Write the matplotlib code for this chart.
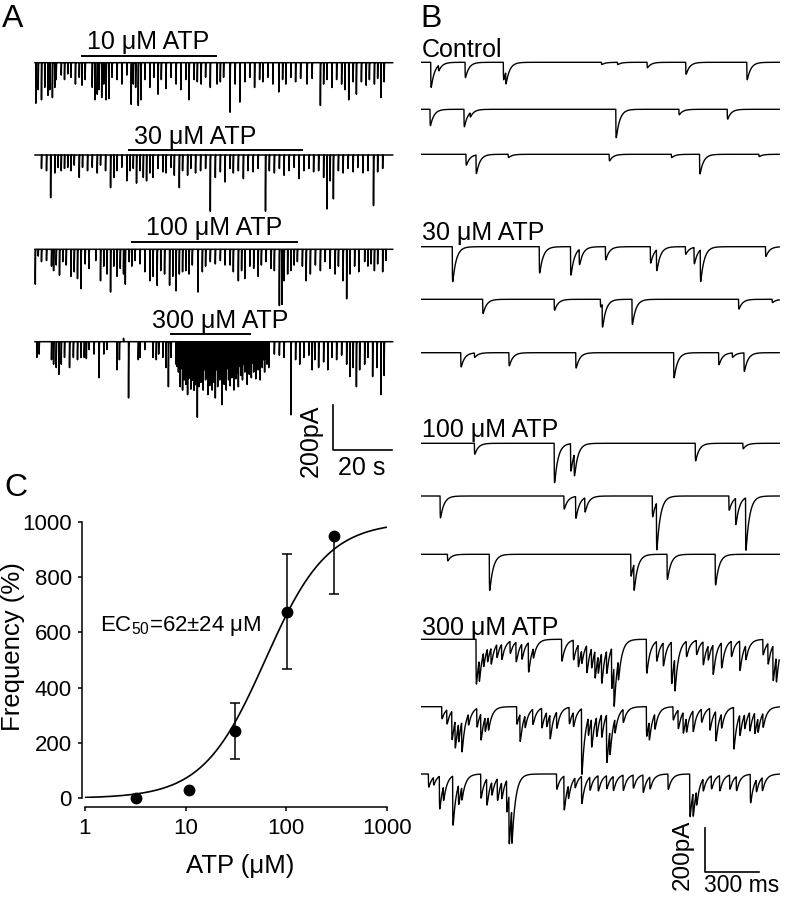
import numpy as np
import matplotlib.pyplot as plt

plt.rcParams["font.family"] = ["Liberation Sans", "DejaVu Sans"]
plt.rcParams["mathtext.fontset"] = "custom"
plt.rcParams["mathtext.rm"] = "Liberation Sans"

# ---------------- data ----------------
# panel A: 4 long recordings, events as (time s, amplitude pA)
a_10 = [(0.3, 180), (1.1, 120), (2.2, 165), (3.3, 110), (4.4, 145), (5.0, 120), (5.9, 155), (6.7, 110),
        (7.2, 75), (8.9, 55), (10.0, 75), (11.1, 50), (12.2, 65), (13.7, 95), (15.0, 65), (15.9, 100),
        (17.0, 75), (19.4, 110), (20.3, 165), (21.1, 140), (21.7, 120), (22.6, 155), (23.3, 95), (24.1, 165),
        (25.0, 160), (26.1, 65), (27.8, 75), (29.4, 95), (31.1, 55), (32.6, 185), (33.3, 95), (34.1, 110),
        (35.0, 190), (35.9, 165), (37.2, 75), (38.9, 110), (40.3, 65), (41.7, 140), (42.8, 75), (44.4, 115),
        (46.1, 65), (47.8, 95), (49.4, 120), (51.1, 75), (52.2, 165), (53.9, 75), (55.0, 85), (56.3, 95),
        (57.8, 65), (59.4, 110), (61.7, 95), (62.8, 85), (63.9, 65), (66.1, 220), (67.8, 95), (69.4, 175),
        (71.1, 85), (72.8, 65), (74.4, 110), (76.1, 75), (77.2, 85), (78.9, 65), (80.6, 95), (82.6, 130),
        (83.9, 75), (85.0, 95), (86.7, 65), (88.3, 85), (90.0, 70), (92.2, 95), (93.9, 70), (96.7, 190),
        (97.8, 95), (98.9, 75), (100.6, 110), (102.2, 75), (103.9, 95), (105.0, 120), (106.3, 165),
        (107.8, 85), (108.9, 140), (110.6, 85), (112.2, 100), (113.3, 75), (115.0, 95), (116.1, 70),
        (117.2, 155), (118.3, 85)]
a_30 = [(2.2, 60), (3.9, 70), (5.3, 190), (6.7, 80), (7.8, 55), (8.9, 70), (10.0, 60), (11.1, 55),
        (12.2, 70), (13.3, 45), (15.0, 100), (16.1, 55), (17.8, 70), (19.4, 55), (21.1, 80), (22.2, 45),
        (23.9, 70), (25.6, 145), (26.7, 100), (27.8, 70), (29.4, 55), (31.1, 115), (32.2, 70), (33.3, 60),
        (34.4, 125), (35.6, 70), (36.7, 100), (37.8, 115), (38.9, 80), (40.0, 100), (41.7, 60), (43.3, 75),
        (44.4, 80), (46.1, 55), (47.2, 90), (48.9, 145), (50.0, 70), (51.7, 90), (52.8, 60), (54.4, 80),
        (56.1, 70), (57.8, 60), (59.4, 250), (61.1, 100), (62.8, 75), (64.4, 120), (66.1, 60), (67.2, 80),
        (68.9, 70), (70.6, 105), (72.2, 70), (73.9, 75), (75.6, 60), (78.1, 250), (79.4, 70), (81.1, 80),
        (82.8, 60), (84.4, 90), (86.1, 70), (87.8, 55), (89.4, 105), (91.1, 70), (92.8, 60), (94.4, 75),
        (96.1, 70), (97.8, 100), (98.9, 240), (100.0, 115), (101.1, 195), (102.8, 70), (104.4, 80),
        (106.1, 60), (107.8, 75), (109.4, 55), (111.1, 80), (112.8, 70), (114.7, 225), (116.1, 75),
        (117.8, 60)]
a_100 = [(0.1, 155), (1.1, 30), (2.2, 55), (3.9, 50), (5.6, 75), (6.3, 95), (7.2, 70), (8.3, 115),
         (9.4, 55), (10.6, 70), (12.2, 120), (13.3, 100), (14.4, 130), (15.6, 175), (17.0, 65), (18.3, 85),
         (20.6, 50), (22.2, 140), (23.3, 75), (24.4, 110), (25.6, 190), (26.7, 75), (27.8, 120), (28.9, 85),
         (30.0, 110), (30.6, 155), (31.9, 55), (32.8, 75), (33.9, 50), (35.6, 65), (37.2, 100), (38.9, 140),
         (40.0, 120), (41.4, 160), (42.6, 95), (43.9, 110), (45.6, 160), (46.7, 120), (47.8, 185),
         (48.9, 110), (50.0, 100), (51.1, 95), (52.2, 110), (53.3, 70), (55.2, 190), (56.7, 100), (57.8, 75),
         (59.4, 55), (61.1, 65), (62.8, 50), (64.4, 70), (66.1, 70), (67.2, 100), (68.9, 140), (70.0, 95),
         (71.1, 130), (72.8, 75), (74.1, 85), (75.6, 120), (76.7, 70), (78.3, 55), (80.0, 85), (81.1, 95),
         (82.8, 250), (83.7, 245), (84.4, 140), (85.6, 110), (86.7, 95), (87.8, 70), (88.9, 55), (90.6, 75),
         (91.9, 140), (93.3, 110), (95.0, 70), (96.7, 95), (98.3, 55), (100.0, 85), (101.7, 110),
         (102.8, 75), (104.4, 140), (105.6, 220), (106.7, 110), (108.3, 75), (109.7, 100), (111.7, 55),
         (112.8, 75), (113.9, 65), (115.0, 95), (116.1, 65), (117.8, 100), (118.9, 50)]
a_300 = [(0.6, 70), (1.4, 55), (5.6, 80), (6.3, 100), (7.2, 115), (8.1, 145), (8.9, 100), (10.0, 70),
         (11.7, 115), (13.0, 70), (14.4, 80), (15.6, 70), (16.7, 70), (17.4, 75), (18.3, 35), (20.0, 55),
         (21.7, 160), (23.3, 55), (24.4, 35), (27.8, 125), (28.6, 80), (30.0, -15), (31.7, 250), (35.0, 80),
         (35.6, 70), (37.2, 35), (40.0, 70), (41.1, 80), (41.9, 55), (43.3, 70), (44.4, 115), (45.2, 200),
         (46.1, 70),
         # burst during 300 uM ATP
         (47.8, 100), (48.1, 110), (48.6, 135), (49.2, 200), (49.7, 120), (50.0, 215), (50.3, 160),
         (50.6, 170), (51.1, 190), (51.3, 130), (51.7, 235), (52.0, 165), (52.2, 160), (52.6, 125),
         (52.8, 210), (53.1, 150), (53.3, 170), (53.7, 130), (53.9, 215), (54.2, 165), (54.4, 190),
         (54.8, 135), (55.0, 335), (55.3, 150), (55.6, 200), (55.9, 180), (56.3, 180), (56.7, 140),
         (57.0, 215), (57.3, 125), (57.8, 170), (58.1, 160), (58.6, 235), (58.9, 135), (59.2, 195),
         (59.6, 165), (60.0, 215), (60.3, 130), (60.6, 180), (60.8, 140), (61.1, 250), (61.4, 125),
         (61.9, 200), (62.2, 150), (62.6, 170), (62.9, 140), (63.3, 280), (63.7, 135), (64.1, 190),
         (64.4, 160), (64.8, 215), (65.1, 120), (65.6, 170), (65.9, 140), (66.1, 195), (66.4, 115),
         (66.7, 160), (67.0, 130), (67.4, 215), (67.8, 120), (68.1, 165), (68.4, 140), (68.9, 200),
         (69.2, 110), (69.7, 150), (70.0, 120), (70.3, 170), (70.7, 100), (71.1, 135), (71.4, 115),
         (71.9, 190), (72.2, 100), (72.6, 145), (73.0, 110), (73.3, 160), (73.7, 95), (74.1, 135),
         (74.4, 95), (74.8, 165), (75.2, 100), (75.6, 125), (75.9, 95), (76.3, 170), (76.7, 85),
         (77.0, 115), (77.4, 80), (77.8, 135), (78.1, 75), (78.6, 100), (78.9, 75), (79.2, 115),
         (81.1, 55), (82.8, 60), (84.4, 70), (86.7, 325), (88.3, 80), (89.7, 100), (91.1, 70), (92.8, 60),
         (93.9, 125), (94.8, 80), (96.1, 115), (97.8, 90), (99.2, 125), (100.6, 70), (102.2, 80),
         (103.9, 60), (105.6, 100), (106.7, 155), (107.8, 115), (108.9, 200), (110.0, 125), (111.7, 100),
         (112.8, 70), (114.4, 155), (115.9, 115), (117.2, 235), (118.3, 150)]
a_labels = ["10 μM ATP", "30 μM ATP", "100 μM ATP", "300 μM ATP"]
a_drug_on = [15.9, 31.7, 33.0, 46.1]
a_drug_off = [61.4, 90.6, 88.9, 73.0]
A_DURATION = 121.2

# panel B: 3 sweeps of 2 s per condition, events as (time s, amplitude pA)
b_control = [
    [(0.050, 115), (0.093, 25), (0.241, 70), (0.454, 80), (0.467, 55), (1.000, 10), (1.089, 10),
     (1.254, 25), (1.469, 55), (1.809, 80)],
    [(0.046, 75), (0.235, 80), (0.269, 20), (1.080, 130), (1.431, 25), (1.700, 45)],
    [(0.246, 50), (0.302, 85), (0.481, 15), (1.043, 30), (1.389, 15), (1.546, 90), (1.876, 10)],
]
b_atp30 = [
    [(0.170, 160), (0.654, 120), (0.828, 130), (0.876, 70), (1.022, 60), (1.272, 75), (1.306, 95),
     (1.467, 35), (1.515, 75), (1.550, 145), (1.913, 45)],
    [(0.339, 65), (0.737, 50), (0.994, 35), (1.004, 105), (1.170, 115), (1.763, 45), (1.950, 15)],
    [(0.217, 65), (0.293, 20), (0.485, 60), (0.857, 70), (1.402, 115), (1.652, 55), (1.728, 20),
     (1.793, 85)],
]
b_atp100 = [
    [(0.293, 50), (0.737, 180), (0.828, 125), (0.848, 100), (1.522, 80), (1.787, 25)],
    [(0.102, 100), (0.791, 60), (0.856, 100), (0.907, 65), (1.283, 95), (1.306, 215), (1.709, 65),
     (1.746, 120), (1.802, 240)],
    [(0.143, 30), (0.376, 165), (1.163, 100), (1.180, 120), (1.365, 115), (1.633, 140)],
]
b_atp300 = [
    [(0.302, 205), (0.319, 100), (0.343, 65), (0.365, 60), (0.385, 75), (0.417, 60), (0.444, 70),
     (0.491, 55), (0.524, 90), (0.556, 70), (0.593, 135), (0.620, 45), (0.778, 100), (0.843, 90),
     (0.870, 100), (0.889, 60), (0.917, 125), (0.944, 90), (0.963, 125), (0.981, 80), (1.000, 140),
     (1.028, 105), (1.056, 185), (1.069, 185), (1.093, 90), (1.250, 155), (1.306, 90), (1.343, 105),
     (1.389, 190), (1.407, 150), (1.472, 70), (1.528, 65), (1.565, 105), (1.593, 65), (1.620, 135),
     (1.667, 115), (1.722, 70), (1.769, 135), (1.802, 65), (1.898, 70), (1.926, 95), (1.954, 160),
     (1.972, 115)],
    [(0.111, 55), (0.139, 65), (0.167, 130), (0.185, 125), (0.204, 85), (0.222, 140), (0.259, 50),
     (0.306, 85), (0.328, 120), (0.352, 65), (0.370, 60), (0.528, 80), (0.546, 125), (0.574, 55),
     (0.617, 70), (0.667, 90), (0.694, 65), (0.713, 110), (0.750, 75), (0.820, 75), (0.843, 65),
     (0.889, 300), (0.926, 80), (0.944, 130), (0.972, 90), (1.000, 105), (1.028, 220), (1.046, 110),
     (1.074, 65), (1.120, 60), (1.250, 135), (1.265, 85), (1.296, 70), (1.398, 60), (1.426, 85),
     (1.454, 95), (1.472, 65), (1.509, 95), (1.556, 60), (1.602, 100), (1.635, 135), (1.667, 65),
     (1.735, 190), (1.769, 95), (1.796, 65), (1.824, 85), (1.852, 95), (1.870, 65), (1.898, 65)],
    [(0.037, 60), (0.065, 35), (0.098, 150), (0.120, 65), (0.172, 225), (0.204, 90), (0.222, 60),
     (0.328, 110), (0.361, 120), (0.389, 60), (0.420, 100), (0.444, 75), (0.472, 145), (0.485, 225),
     (0.500, 160), (0.750, 70), (0.791, 155), (0.815, 60), (0.852, 45), (0.889, 125), (0.935, 60),
     (0.981, 70), (1.028, 60), (1.065, 65), (1.120, 70), (1.176, 60), (1.231, 80), (1.269, 55),
     (1.370, 70), (1.491, 195), (1.509, 110), (1.528, 65), (1.565, 55), (1.611, 60), (1.657, 70),
     (1.713, 65), (1.750, 65), (1.828, 130), (1.861, 55), (1.894, 60)],
]
b_labels = ["Control", "30 μM ATP", "100 μM ATP", "300 μM ATP"]
B_DURATION = 1.99

# panel C: dose-response
atp_conc = [3.2, 10.7, 31.3, 101, 302]
freq_pct = [0, 30, 244, 675, 948]
err_low = [0, 0, 102, 208, 211]
err_high = [0, 0, 102, 208, 0]
EC50 = 62
HILL_N = 1.4
FREQ_MAX = 1000

# ---------------- layout helpers (pixel coords, origin top-left) ----------------
W, H = 788, 899
fig = plt.figure(figsize=(W / 100, H / 100), dpi=100)


def px_axes(x0, y0, x1, y1):
    ax = fig.add_axes([x0 / W, 1 - y1 / H, (x1 - x0) / W, (y1 - y0) / H])
    ax.set_axis_off()
    return ax


def px_text(x, yc, s, size, ha="left", **kw):
    # yc = vertical centre of capital letters
    base = yc + 0.358 * size * 100 / 72
    fig.text(x / W, 1 - base / H, s, fontsize=size, ha=ha, va="baseline", **kw)


def build_trace(events, t_end, dt, tau_r, tau_d):
    t = np.arange(0, t_end, dt)
    y = np.zeros_like(t)
    for te, amp in events:
        i = min(int(round(te / dt)), len(t) - 1)
        s = t[i:] - t[i]
        if tau_r > 0:
            k = (1 - np.exp(-s / tau_r)) * np.exp(-s / tau_d)
            s_pk = tau_r * np.log(1 + tau_d / tau_r)
            k /= (1 - np.exp(-s_pk / tau_r)) * np.exp(-s_pk / tau_d)
        else:
            k = np.exp(-s / tau_d)
        y[i:] -= amp * k
    return t, y


# ---------------- panel A ----------------
A_PA_PER_PX = 200 / 45
a_traces = [a_10, a_30, a_100, a_300]
a_base_px = [62.7, 155, 249.3, 341.7]
a_bar_px = [55.7, 150, 241.7, 334.3]
a_label_pos = [(148.3, 40), (195, 135.5), (214.5, 226), (220, 319.5)]

for i, ev in enumerate(a_traces):
    b = a_base_px[i]
    ax = px_axes(35, b - 20, 392.7, b + 85)
    ax.set_xlim(0, A_DURATION)
    ax.set_ylim(-85 * A_PA_PER_PX, 20 * A_PA_PER_PX)
    t, y = build_trace(ev, A_DURATION, 0.02, 0, 0.04)
    ax.plot(t, y, color="black", lw=1.1, clip_on=False)
    bar_y = (b - a_bar_px[i]) * A_PA_PER_PX
    ax.plot([a_drug_on[i], a_drug_off[i]], [bar_y, bar_y], color="black", lw=1.4)
    px_text(a_label_pos[i][0], a_label_pos[i][1], a_labels[i], 18, ha="center")

sb = px_axes(332.7, 405, 391.7, 450)
sb.set_xlim(0, 20)
sb.set_ylim(0, 200)
sb.plot([0, 0, 20], [200, 0, 0], color="black", lw=1.2, clip_on=False)
fig.text(311 / W, 1 - 441 / H, "200pA", fontsize=18, rotation=90, ha="center", va="center")
px_text(362, 466, "20 s", 18, ha="center")

# ---------------- panel B ----------------
B_PA_PER_PX = 200 / 43.7
b_groups = [b_control, b_atp30, b_atp100, b_atp300]
b_base_px = [[62.3, 109.3, 154.3], [246.7, 299.3, 352.7],
             [443.3, 496, 554.3], [639.3, 706.7, 774]]
b_label_y = [48, 231.5, 428, 626.5]

for g, sweeps in enumerate(b_groups):
    for j, ev in enumerate(sweeps):
        b = b_base_px[g][j]
        ax = px_axes(421.7, b - 15, 779.3, b + 75)
        ax.set_xlim(0, B_DURATION)
        ax.set_ylim(-75 * B_PA_PER_PX, 15 * B_PA_PER_PX)
        t, y = build_trace(ev, B_DURATION, 0.0005, 0.0008, 0.02)
        ax.plot(t, y, color="black", lw=1.0, clip_on=False)
    px_text(421.7, b_label_y[g], b_labels[g], 18)

sb2 = px_axes(705, 828, 759.3, 871.7)
sb2.set_xlim(0, 0.3)
sb2.set_ylim(0, 200)
sb2.plot([0, 0, 0.3], [200, 0, 0], color="black", lw=1.2, clip_on=False)
fig.text(683 / W, 1 - 855 / H, "200pA", fontsize=17.5, rotation=90, ha="center", va="center")
px_text(704, 884, "300 ms", 16.5)

# ---------------- panel C ----------------
axc = fig.add_axes([85 / W, 1 - 798.3 / H, (386.7 - 85) / W, (798.3 - 521.7) / H])
axc.set_xscale("log")
axc.set_xlim(1, 1000)
axc.set_ylim(0, 1000)
xfit = np.logspace(0, 3, 300)
yfit = FREQ_MAX * xfit ** HILL_N / (xfit ** HILL_N + EC50 ** HILL_N)
axc.plot(xfit, yfit, color="black", lw=1.2)
axc.errorbar(atp_conc, freq_pct, yerr=[err_low, err_high], fmt="o", color="black",
             ms=7.5, capsize=3.5, elinewidth=1.1, capthick=1.1, clip_on=False)
for side in ["top", "right"]:
    axc.spines[side].set_visible(False)
axc.spines["left"].set_position(("outward", 2.4))
axc.spines["bottom"].set_position(("outward", 6))
axc.spines["left"].set_bounds(0, 1000)
axc.spines["bottom"].set_bounds(1, 1000)
axc.spines["left"].set_linewidth(1.1)
axc.spines["bottom"].set_linewidth(1.1)
axc.set_xticks([1, 10, 100, 1000])
axc.set_xticklabels(["1", "10", "100", "1000"])
axc.xaxis.set_minor_locator(plt.NullLocator())
axc.set_yticks([0, 200, 400, 600, 800, 1000])
axc.tick_params(axis="both", labelsize=16, length=3, width=1.1, direction="out")
axc.tick_params(axis="y", pad=4)
axc.tick_params(axis="x", pad=5)
axc.patch.set_alpha(0)

fig.text(13 / W, 1 - 647 / H, "Frequency (%)", fontsize=18.5, rotation=90, ha="center", va="center")
px_text(240, 864, "ATP (μM)", 18.5, ha="center")
px_text(100, 623, "EC$_{50}$=62±24 μM", 16)

# panel letters
px_text(2, 16, "A", 23)
px_text(420, 16, "B", 23)
px_text(4, 485, "C", 23)

fig.savefig("out.png", dpi=100)
